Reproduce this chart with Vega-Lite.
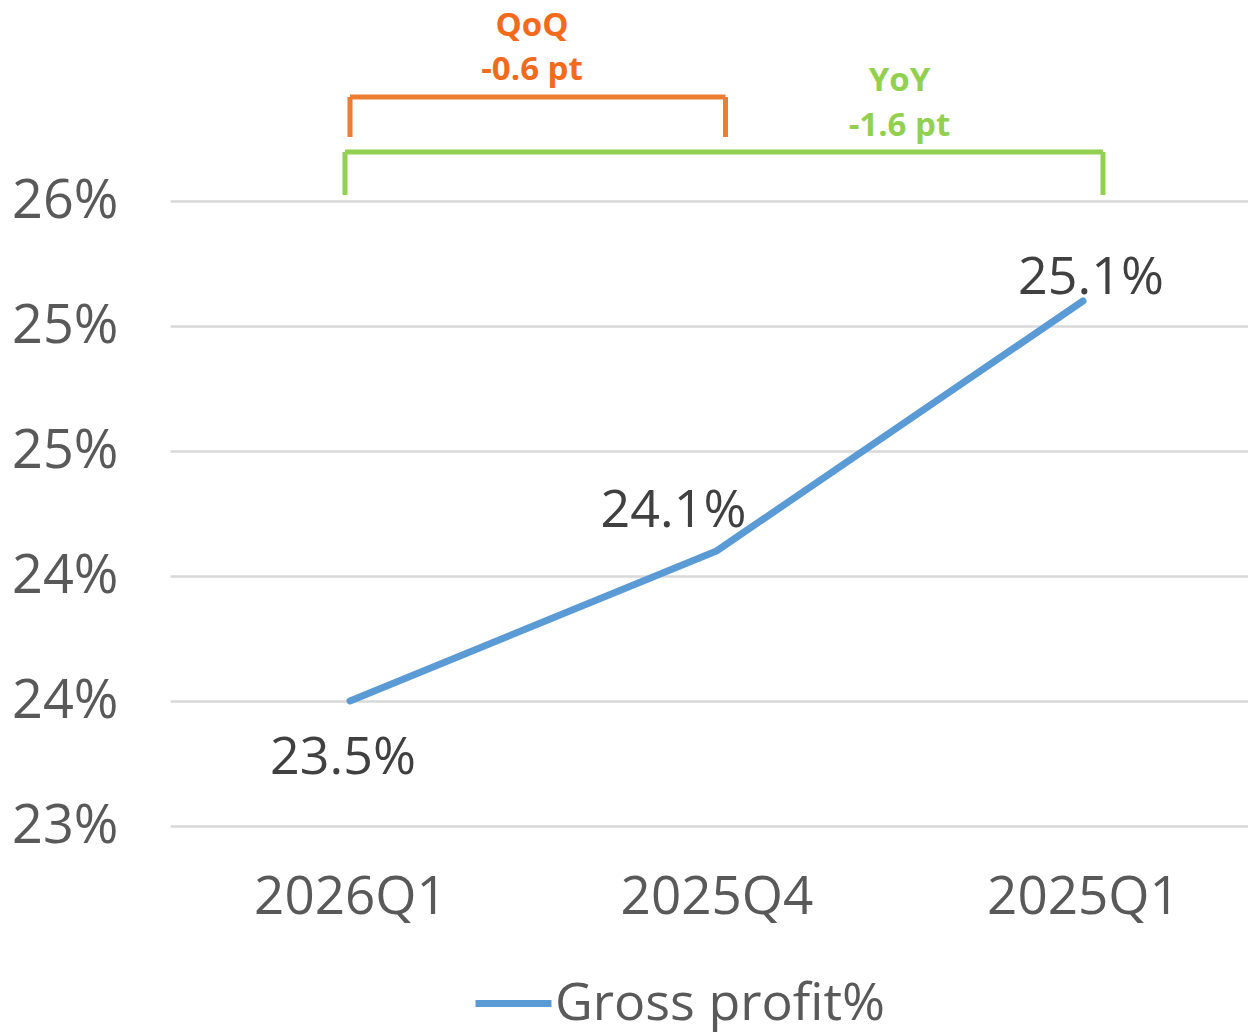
{
  "$schema": "https://vega.github.io/schema/vega-lite/v6.json",
  "width": 1078,
  "height": 625,
  "autosize": "none",
  "padding": {"left": 170, "top": 201, "right": 0, "bottom": 207},
  "background": "white",
  "config": {
    "font": "Open Sans",
    "view": {"stroke": null}
  },
  "data": {
    "values": [
      {"quarter": "2026Q1", "gp": 23.5, "label": "23.5%", "series": "Gross profit%"},
      {"quarter": "2025Q4", "gp": 24.1, "label": "24.1%", "series": "Gross profit%"},
      {"quarter": "2025Q1", "gp": 25.1, "label": "25.1%", "series": "Gross profit%"}
    ]
  },
  "layer": [
    {
      "mark": {"type": "line", "strokeWidth": 7, "strokeCap": "round", "strokeJoin": "round"},
      "encoding": {
        "x": {
          "field": "quarter", "type": "nominal",
          "scale": {"type": "point", "domain": ["2026Q1", "2025Q4", "2025Q1"], "padding": 0.4707, "align": 0.5217},
          "axis": {"title": null, "domain": false, "ticks": false, "labelAngle": 0, "labelFontSize": 53, "labelColor": "#595959", "labelPadding": 45, "labelLimit": 0, "labelFont": "Open Sans"}
        },
        "y": {
          "field": "gp", "type": "quantitative",
          "scale": {"domain": [23, 25.5], "nice": false, "zero": false},
          "axis": {"title": null, "domain": false, "ticks": false, "values": [23, 23.5, 24, 24.5, 25, 25.5], "labelExpr": "round(datum.value) + '%'", "labelFontSize": 54, "labelColor": "#595959", "labelPadding": 52, "labelLimit": 0, "gridColor": "#D9D9D9", "gridWidth": 2.5, "labelFont": "Open Sans"}
        },
        "color": {
          "field": "series", "type": "nominal",
          "scale": {"range": ["#5B9BD5"]},
          "legend": {"title": null, "orient": "none", "legendX": 302, "legendY": 761, "symbolType": "stroke", "symbolStrokeWidth": 7, "symbolSize": 5776, "labelFontSize": 52, "labelColor": "#595959", "labelFont": "Open Sans", "labelOffset": 0, "labelLimit": 0}
        }
      }
    },
    {
      "transform": [{"filter": "datum.quarter === '2026Q1'"}],
      "mark": {"type": "text", "fontSize": 52, "color": "#404040", "baseline": "middle", "dx": -7, "dy": 57},
      "encoding": {"x": {"field": "quarter", "type": "nominal"}, "y": {"field": "gp", "type": "quantitative"}, "text": {"field": "label"}}
    },
    {
      "transform": [{"filter": "datum.quarter === '2025Q4'"}],
      "mark": {"type": "text", "fontSize": 52, "color": "#404040", "baseline": "middle", "dx": -43, "dy": -40},
      "encoding": {"x": {"field": "quarter", "type": "nominal"}, "y": {"field": "gp", "type": "quantitative"}, "text": {"field": "label"}}
    },
    {
      "transform": [{"filter": "datum.quarter === '2025Q1'"}],
      "mark": {"type": "text", "fontSize": 52, "color": "#404040", "baseline": "middle", "dx": 8, "dy": -23},
      "encoding": {"x": {"field": "quarter", "type": "nominal"}, "y": {"field": "gp", "type": "quantitative"}, "text": {"field": "label"}}
    },
    {
      "data": {"values": [{}]},
      "mark": {"type": "rule", "color": "#ED7D31", "strokeWidth": 5, "x2Offset": 9},
      "encoding": {"x": {"datum": "2026Q1"}, "x2": {"datum": "2025Q4"}, "y": {"datum": 25.916}}
    },
    {
      "data": {"values": [{}]},
      "mark": {"type": "rule", "color": "#ED7D31", "strokeWidth": 5},
      "encoding": {"x": {"datum": "2026Q1"}, "y": {"datum": 25.916}, "y2": {"datum": 25.756}}
    },
    {
      "data": {"values": [{}]},
      "mark": {"type": "rule", "color": "#ED7D31", "strokeWidth": 5, "xOffset": 9},
      "encoding": {"x": {"datum": "2025Q4"}, "y": {"datum": 25.916}, "y2": {"datum": 25.756}}
    },
    {
      "data": {"values": [{}]},
      "mark": {"type": "rule", "color": "#92D050", "strokeWidth": 5, "xOffset": -5, "x2Offset": 20},
      "encoding": {"x": {"datum": "2026Q1"}, "x2": {"datum": "2025Q1"}, "y": {"datum": 25.696}}
    },
    {
      "data": {"values": [{}]},
      "mark": {"type": "rule", "color": "#92D050", "strokeWidth": 5, "xOffset": -5},
      "encoding": {"x": {"datum": "2026Q1"}, "y": {"datum": 25.696}, "y2": {"datum": 25.524}}
    },
    {
      "data": {"values": [{}]},
      "mark": {"type": "rule", "color": "#92D050", "strokeWidth": 5, "xOffset": 20},
      "encoding": {"x": {"datum": "2025Q1"}, "y": {"datum": 25.696}, "y2": {"datum": 25.524}}
    },
    {
      "data": {"values": [{}]},
      "mark": {"type": "text", "text": "QoQ", "fontSize": 33, "fontWeight": "bold", "color": "#F26B1D", "baseline": "middle", "dx": 182},
      "encoding": {"x": {"datum": "2026Q1"}, "y": {"datum": 26.2}}
    },
    {
      "data": {"values": [{}]},
      "mark": {"type": "text", "text": "-0.6 pt", "fontSize": 33, "fontWeight": "bold", "color": "#F26B1D", "baseline": "middle", "dx": 182},
      "encoding": {"x": {"datum": "2026Q1"}, "y": {"datum": 26.024}}
    },
    {
      "data": {"values": [{}]},
      "mark": {"type": "text", "text": "YoY", "fontSize": 33, "fontWeight": "bold", "color": "#92D050", "baseline": "middle", "dx": 183},
      "encoding": {"x": {"datum": "2025Q4"}, "y": {"datum": 25.98}}
    },
    {
      "data": {"values": [{}]},
      "mark": {"type": "text", "text": "-1.6 pt", "fontSize": 33, "fontWeight": "bold", "color": "#92D050", "baseline": "middle", "dx": 183},
      "encoding": {"x": {"datum": "2025Q4"}, "y": {"datum": 25.8}}
    }
  ]
}
